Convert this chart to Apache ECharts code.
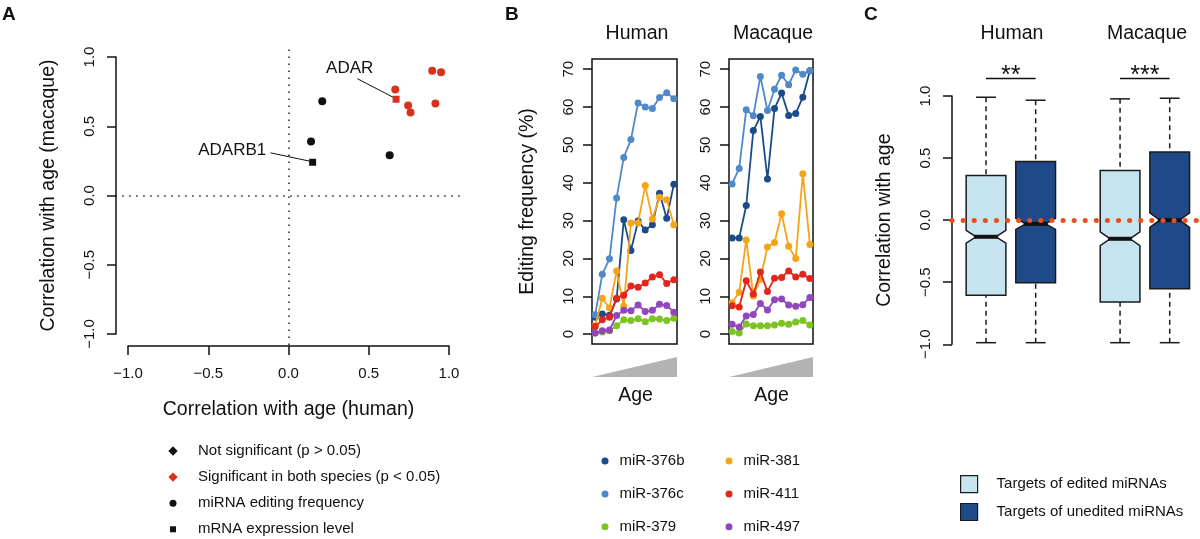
<!DOCTYPE html>
<html>
<head>
<meta charset="utf-8">
<title>miRNA editing and age</title>
<script src="https://cdn.jsdelivr.net/npm/echarts@6.0.0/dist/echarts.min.js"></script>
<style>
    html, body { margin: 0; padding: 0; background: #fff; }
    #chart { width: 1200px; height: 539px; }
</style>
</head>
<body>
<div id="chart"></div>
<script>
(function () {

    // ---- panel A : correlation with age, human vs macaque
    var NS_MIRNA = [[0.21, 0.68], [0.14, 0.39], [0.63, 0.29]];
    var NS_MRNA = [[0.15, 0.24]];
    var SIG_MIRNA = [[0.665, 0.765], [0.745, 0.65], [0.76, 0.6], [0.895, 0.9], [0.95, 0.89], [0.915, 0.665]];
    var SIG_MRNA = [[0.67, 0.695]];
    var GENE_NAMES = ['ADARB1', 'ADAR'];
    var A_LEGEND = ['Not significant (p > 0.05)', 'Significant in both species (p < 0.05)',
        'miRNA editing frequency', 'mRNA expression level'];

    // ---- panel B : editing frequency along age
    var MIRNAS = ['miR-376b', 'miR-376c', 'miR-379', 'miR-381', 'miR-411', 'miR-497'];
    var HUMAN_376B = [4.5, 5.3, 5.0, 9.3, 30.2, 22.1, 29.9, 27.5, 28.9, 37.2, 30.6, 39.6];
    var HUMAN_376C = [5.1, 15.8, 19.9, 36.0, 46.7, 51.4, 61.1, 60.0, 59.6, 62.5, 63.8, 62.2];
    var HUMAN_379 = [0.3, 0.6, 0.9, 2.2, 3.8, 3.6, 4.1, 3.3, 4.1, 4.0, 3.6, 4.2];
    var HUMAN_381 = [2.2, 9.5, 6.9, 16.7, 7.4, 29.4, 29.4, 39.3, 30.4, 36.2, 35.5, 28.9];
    var HUMAN_411 = [2.0, 3.8, 4.5, 9.5, 10.3, 12.7, 12.4, 13.5, 15.1, 15.7, 13.4, 14.4];
    var HUMAN_497 = [0.3, 0.9, 1.1, 4.9, 6.3, 6.2, 7.7, 6.0, 6.3, 7.9, 7.6, 5.8];
    var MACAQUE_376B = [25.4, 25.4, 34.0, 53.8, 57.5, 41.0, 59.6, 63.7, 57.8, 58.3, 62.6, 69.6];
    var MACAQUE_376C = [39.7, 43.8, 59.3, 57.7, 68.1, 59.1, 64.7, 68.4, 65.9, 69.8, 68.7, 69.6];
    var MACAQUE_379 = [0.7, 0.3, 2.7, 2.2, 2.2, 2.2, 2.4, 2.9, 2.6, 3.2, 3.6, 2.4];
    var MACAQUE_381 = [8.3, 11.1, 24.9, 10.1, 14.5, 23.0, 24.2, 31.8, 23.2, 20.0, 42.4, 23.7];
    var MACAQUE_411 = [7.5, 7.2, 14.1, 10.6, 16.4, 11.3, 14.8, 15.0, 16.7, 15.1, 15.8, 14.7];
    var MACAQUE_497 = [2.6, 1.9, 4.8, 5.2, 8.1, 6.4, 9.1, 9.3, 7.7, 7.4, 7.8, 9.7];
    var EDIT_TICKS = [0, 10, 20, 30, 40, 50, 60, 70];

    // ---- panel C : target correlation with age (min, q1, median, q3, max)
    var GROUPS = ['Targets of edited miRNAs', 'Targets of unedited miRNAs'];
    var SPECIES = ['Human', 'Macaque'];
    var EDITED_STATS = [[-0.987, -0.604, -0.134, 0.36, 0.99], [-0.987, -0.66, -0.15, 0.4, 0.977]];
    var UNEDITED_STATS = [[-0.987, -0.504, -0.03, 0.473, 0.966], [-0.987, -0.552, 0.0, 0.548, 0.982]];
    var EDITED_NOTCH = [0.051, 0.056];
    var UNEDITED_NOTCH = [0.045, 0.058];
    var STARS = ['**', '***'];

    var HUMAN = [HUMAN_376B, HUMAN_376C, HUMAN_379, HUMAN_381, HUMAN_411, HUMAN_497];
    var MACAQUE = [MACAQUE_376B, MACAQUE_376C, MACAQUE_379, MACAQUE_381, MACAQUE_411, MACAQUE_497];
    var MIR_COLORS = ['#1c4b8c', '#4f89c9', '#7cc421', '#f5a416', '#e3261d', '#9146bd'];

    var FONT = '"Liberation Sans", Arial, Helvetica, sans-serif';
    var INK = '#111';
    var RED = '#d8321f';

    var chart = echarts.init(document.getElementById('chart'), null, { renderer: 'canvas' });

    function minusFmt(v) {
        var s = Math.abs(v).toFixed(1);
        return v < 0 ? '\u2212' + s : s;
    }

    function toPoints(vals) {
        return vals.map(function (v, i) { return [i + 1, v]; });
    }

    //
    var axisLine = { show: true, onZero: false, lineStyle: { color: INK, width: 1.5 } };
    var axisTick = { show: true, length: 9, lineStyle: { color: INK, width: 1.5 } };
    var hidden = function (grid, min, max) {
        return { type: 'value', gridIndex: grid, min: min, max: max, show: false, splitLine: { show: false } };
    };

    //
    function renderBox(params, api) {
        var x = api.value(0), lo = api.value(1), q1 = api.value(2), med = api.value(3),
            q3 = api.value(4), hi = api.value(5), n = api.value(6);
        var hw = 0.4;
        function p(a, b) { return api.coord([a, b]); }
        var poly = [p(x - hw, q3), p(x + hw, q3), p(x + hw, med + n), p(x + hw / 2, med),
            p(x + hw, med - n), p(x + hw, q1), p(x - hw, q1), p(x - hw, med - n),
            p(x - hw / 2, med), p(x - hw, med + n)];
        var top = p(x, hi), bot = p(x, lo), boxTop = p(x, q3), boxBot = p(x, q1);
        var capL = p(x - hw / 2, hi)[0], capR = p(x + hw / 2, hi)[0];
        var mL = p(x - hw / 2, med), mR = p(x + hw / 2, med);
        var dash = { stroke: '#1a1a1a', lineWidth: 1.5, lineDash: [5, 4] };
        var solid = { stroke: '#1a1a1a', lineWidth: 1.5 };
        return {
            type: 'group',
            children: [
                { type: 'line', shape: { x1: top[0], y1: top[1], x2: boxTop[0], y2: boxTop[1] }, style: dash },
                { type: 'line', shape: { x1: bot[0], y1: bot[1], x2: boxBot[0], y2: boxBot[1] }, style: dash },
                { type: 'line', shape: { x1: capL, y1: top[1], x2: capR, y2: top[1] }, style: solid },
                { type: 'line', shape: { x1: capL, y1: bot[1], x2: capR, y2: bot[1] }, style: solid },
                { type: 'polygon', shape: { points: poly }, style: { fill: api.visual('color'), stroke: '#1a1a1a', lineWidth: 1.5 } },
                { type: 'line', shape: { x1: mL[0] - 2, y1: mL[1], x2: mR[0] + 2, y2: mR[1] }, style: { stroke: INK, lineWidth: 4 } }
            ]
        };
    }

    //
    var SIG_Y = 1.14;
    function renderStars(params, api) {
        var a = api.coord([api.value(0), SIG_Y]);
        var b = api.coord([api.value(1), SIG_Y]);
        return {
            type: 'group',
            children: [
                { type: 'line', shape: { x1: a[0], y1: a[1], x2: b[0], y2: a[1] }, style: { stroke: INK, lineWidth: 1.5 } },
                {
                    type: 'text',
                    style: {
                        text: STARS[params.dataIndex], x: (a[0] + b[0]) / 2, y: a[1] + 10,
                        align: 'center', verticalAlign: 'bottom', fontSize: 25, fill: INK, fontFamily: FONT
                    }
                }
            ]
        };
    }

    //
    function boxData(stats, notch, offset) {
        return stats.map(function (s, i) {
            return [1 + i * 2.7 + offset].concat(s).concat([notch[i]]);
        });
    }

    //
    var series = [];

    // panel A
    series.push({
        name: A_LEGEND[0], type: 'scatter', xAxisIndex: 1, yAxisIndex: 1, z: 4,
        itemStyle: { color: INK, opacity: 1 },
        data: NS_MIRNA.map(function (p) { return { value: p, symbol: 'circle', symbolSize: 8 }; })
            .concat(NS_MRNA.map(function (p) { return { value: p, symbol: 'rect', symbolSize: 7 }; }))
    });
    series.push({
        name: A_LEGEND[1], type: 'scatter', xAxisIndex: 1, yAxisIndex: 1, z: 4,
        itemStyle: { color: RED, opacity: 1 },
        data: SIG_MIRNA.map(function (p) { return { value: p, symbol: 'circle', symbolSize: 8 }; })
            .concat(SIG_MRNA.map(function (p) { return { value: p, symbol: 'rect', symbolSize: 7 }; }))
    });
    series.push({ name: A_LEGEND[2], type: 'scatter', xAxisIndex: 1, yAxisIndex: 1, itemStyle: { color: INK, opacity: 1 }, data: [] });
    series.push({ name: A_LEGEND[3], type: 'scatter', xAxisIndex: 1, yAxisIndex: 1, itemStyle: { color: INK, opacity: 1 }, data: [] });

    var dotted = { color: '#222', width: 1.5, type: [1.5, 5.5] };
    var leader = { color: INK, width: 1, type: 'solid' };
    series.push({
        type: 'scatter', xAxisIndex: 1, yAxisIndex: 1, symbolSize: 0, silent: true, z: 3,
        itemStyle: { opacity: 1 },
        data: [[-0.351, 0.325], [0.381, 0.917]].map(function (p, i) {
            return { value: p, label: { formatter: GENE_NAMES[i] } };
        }),
        label: { show: true, position: 'inside', fontSize: 17, color: INK, fontFamily: FONT },
        markLine: {
            silent: true, symbol: ['none', 'none'], label: { show: false },
            data: [
                { xAxis: 0, lineStyle: dotted },
                { yAxis: 0, lineStyle: dotted },
                [{ coord: [-0.1125, 0.308], lineStyle: leader }, { coord: [0.131, 0.248] }],
                [{ coord: [0.429, 0.843], lineStyle: leader }, { coord: [0.65, 0.71] }]
            ]
        }
    });

    // panel B
    MIRNAS.forEach(function (name, i) {
        [HUMAN[i], MACAQUE[i]].forEach(function (vals, k) {
            series.push({
                name: name, type: 'line', xAxisIndex: 2 + k, yAxisIndex: 2 + k, z: 2 + i * 0.1,
                symbol: 'circle', symbolSize: 7, showSymbol: true,
                itemStyle: { color: MIR_COLORS[i] },
                lineStyle: { color: MIR_COLORS[i], width: 1.8 },
                data: toPoints(vals)
            });
        });
    });

    // panel C
    series.push({
        name: GROUPS[0], type: 'custom', xAxisIndex: 4, yAxisIndex: 4, z: 2,
        itemStyle: { color: '#c6e4ef', borderColor: '#1a1a1a', borderWidth: 1.2 },
        renderItem: renderBox, data: boxData(EDITED_STATS, EDITED_NOTCH, 0)
    });
    series.push({
        name: GROUPS[1], type: 'custom', xAxisIndex: 4, yAxisIndex: 4, z: 2,
        itemStyle: { color: '#1f4a89', borderColor: '#1a1a1a', borderWidth: 1.2 },
        renderItem: renderBox, data: boxData(UNEDITED_STATS, UNEDITED_NOTCH, 1)
    });
    series.push({
        type: 'custom', xAxisIndex: 4, yAxisIndex: 4, z: 5, silent: true,
        renderItem: renderStars,
        data: STARS.map(function (s, i) { return [1 + i * 2.7, 2 + i * 2.7]; }),
        markLine: {
            silent: true, symbol: ['none', 'none'], label: { show: false },
            lineStyle: { color: '#e4511e', width: 5, type: [0.1, 11], cap: 'round' },
            data: [{ yAxis: 0 }]
        }
    });

    //
    var legendText = { fontSize: 15, color: INK, fontFamily: FONT, lineHeight: 17 };
    var legends = [
        {
            orient: 'vertical', left: 168, top: 442.5, padding: 0, itemWidth: 10, itemHeight: 10, itemGap: 9.1,
            selectedMode: false,
            textStyle: Object.assign({ padding: [0, 0, 0, 15] }, legendText),
            data: [
                { name: A_LEGEND[0], icon: 'path://M0,0M10,10M5,0.3L9.7,5L5,9.7L0.3,5Z' },
                { name: A_LEGEND[1], icon: 'path://M0,0M10,10M5,0.3L9.7,5L5,9.7L0.3,5Z' },
                { name: A_LEGEND[2], icon: 'path://M0,0M10,10M8.5,5A3.5,3.5,0,1,1,1.5,5A3.5,3.5,0,1,1,8.5,5Z' },
                { name: A_LEGEND[3], icon: 'path://M0,0M10,10M2,2H8V8H2Z' }
            ]
        },
        {
            orient: 'vertical', left: 601.5, top: 452.5, padding: 0, itemWidth: 7, itemHeight: 7, itemGap: 15.9,
            selectedMode: false, icon: 'circle',
            textStyle: Object.assign({ padding: [0, 0, 0, 6] }, legendText),
            data: MIRNAS.slice(0, 3)
        },
        {
            orient: 'vertical', left: 725.5, top: 452.5, padding: 0, itemWidth: 7, itemHeight: 7, itemGap: 15.9,
            selectedMode: false, icon: 'circle',
            textStyle: Object.assign({ padding: [0, 0, 0, 6] }, legendText),
            data: MIRNAS.slice(3)
        },
        {
            orient: 'vertical', left: 960, top: 475, padding: 0, itemWidth: 17, itemHeight: 17, itemGap: 9.7,
            selectedMode: false, icon: 'rect',
            itemStyle: { borderColor: '#1a1a1a', borderWidth: 1.2 },
            textStyle: Object.assign({ padding: [0, 0, 0, 14] }, legendText),
            data: GROUPS
        }
    ];

    //
    function label(text, x, y, size, bold) {
        return {
            type: 'text', x: x, y: y, silent: true,
            style: {
                text: text, fontSize: size, fontWeight: bold ? 'bold' : 'normal', fill: INK,
                fontFamily: FONT, align: bold ? 'left' : 'center', verticalAlign: 'middle'
            }
        };
    }
    var graphics = [
        label('A', 2, 15, 19, true),
        label('B', 505, 15, 19, true),
        label('C', 864, 15, 19, true),
        label(SPECIES[0], 637, 34, 19.5),
        label(SPECIES[1], 773, 34, 19.5),
        label(SPECIES[0], 1012, 34, 19.5),
        label(SPECIES[1], 1147, 34, 19.5),
        label('Age', 635.5, 396, 19.5),
        label('Age', 771.5, 396, 19.5),
        { type: 'polygon', silent: true, shape: { points: [[592, 377], [677, 377], [677, 357]] }, style: { fill: '#b3b3b3' } },
        { type: 'polygon', silent: true, shape: { points: [[729, 377], [813, 377], [813, 357]] }, style: { fill: '#b3b3b3' } }
    ];

    //
    var option = {
        animation: false,
        backgroundColor: '#fff',
        textStyle: { fontFamily: FONT },
        grid: [
            { left: 128, top: 57, width: 321, height: 277 },
            { left: 115.2, top: 45.9, width: 346.7, height: 299.2 },
            { left: 592, top: 59, width: 85, height: 285, show: true, borderColor: INK, borderWidth: 1.5, backgroundColor: 'transparent' },
            { left: 729, top: 59, width: 84, height: 285, show: true, borderColor: INK, borderWidth: 1.5, backgroundColor: 'transparent' },
            { left: 952, top: 96, width: 248, height: 248.3 }
        ],
        xAxis: [
            {
                type: 'value', gridIndex: 0, min: -1, max: 1, interval: 0.5, offset: 12,
                axisLine: axisLine, axisTick: axisTick, splitLine: { show: false },
                axisLabel: { fontSize: 15, color: INK, margin: 20, formatter: minusFmt },
                name: 'Correlation with age (human)', nameLocation: 'middle', nameGap: 54,
                nameTextStyle: { fontSize: 19.5, color: INK }
            },
            hidden(1, -1.08, 1.08),
            hidden(2, 0.56, 12.44),
            hidden(3, 0.56, 12.44),
            hidden(4, 0.315, 5.31)
        ],
        yAxis: [
            {
                type: 'value', gridIndex: 0, min: -1, max: 1, interval: 0.5, offset: 12,
                axisLine: axisLine, axisTick: axisTick, splitLine: { show: false },
                axisLabel: { fontSize: 15, color: INK, margin: 19, rotate: 90, formatter: minusFmt },
                name: 'Correlation with age (macaque)', nameLocation: 'middle', nameGap: 57,
                nameTextStyle: { fontSize: 19.5, color: INK }
            },
            hidden(1, -1.08, 1.08),
            {
                type: 'value', gridIndex: 2, min: -2.6, max: 72.7,
                axisLine: { show: false }, splitLine: { show: false },
                axisTick: { show: true, length: 9, customValues: EDIT_TICKS, lineStyle: { color: INK, width: 1.5 } },
                axisLabel: { customValues: EDIT_TICKS, fontSize: 15, color: INK, margin: 16, rotate: 90 },
                name: 'Editing frequency (%)', nameLocation: 'middle', nameGap: 54,
                nameTextStyle: { fontSize: 19.5, color: INK }
            },
            {
                type: 'value', gridIndex: 3, min: -2.6, max: 72.7,
                axisLine: { show: false }, splitLine: { show: false },
                axisTick: { show: true, length: 9, customValues: EDIT_TICKS, lineStyle: { color: INK, width: 1.5 } },
                axisLabel: { customValues: EDIT_TICKS, fontSize: 15, color: INK, margin: 16, rotate: 90 }
            },
            {
                type: 'value', gridIndex: 4, min: -1, max: 1, interval: 0.5,
                axisLine: axisLine, axisTick: axisTick, splitLine: { show: false },
                axisLabel: { fontSize: 15, color: INK, margin: 19, rotate: 90, formatter: minusFmt },
                name: 'Correlation with age', nameLocation: 'middle', nameGap: 57,
                nameTextStyle: { fontSize: 19.5, color: INK }
            }
        ],
        legend: legends,
        graphic: graphics,
        series: series
    };

    chart.setOption(option);

}());
</script>
</body>
</html>
